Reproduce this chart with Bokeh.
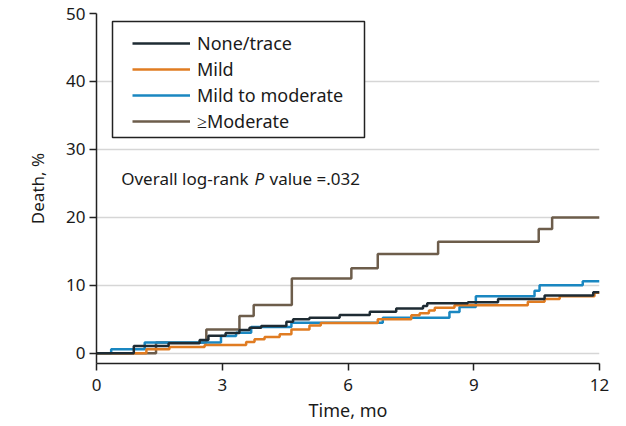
from bokeh.plotting import figure
from bokeh.models import Legend, LegendItem, Label, Range1d, FixedTicker, BoxAnnotation
from bokeh.embed import file_html
from bokeh.resources import INLINE

# ---- data ----
none_t = [0, 0.89, 1.72, 2.46, 2.67, 3.08, 3.41, 3.65, 3.93, 4.53, 4.69, 5.08, 5.80, 6.52, 7.15, 7.79, 7.89, 8.86, 9.58, 10.69, 11.85, 12]
none_v = [0, 1.07, 1.47, 1.96, 2.6, 3.0, 3.43, 3.77, 4.0, 4.66, 5.0, 5.25, 5.64, 6.1, 6.6, 6.96, 7.35, 7.5, 8.0, 8.5, 9.0, 9.0]

mild_t = [0, 1.19, 1.74, 2.58, 3.57, 3.77, 4.01, 4.37, 4.65, 5.08, 5.35, 6.71, 7.51, 7.71, 7.93, 8.07, 8.54, 10.29, 10.69, 11.05, 11.88, 12]
mild_v = [0, 0.6, 0.93, 1.22, 1.66, 2.06, 2.4, 2.8, 3.5, 4.1, 4.45, 5.0, 5.6, 5.9, 6.3, 6.7, 7.06, 7.6, 8.0, 8.4, 8.9, 8.9]

mm_t = [0, 0.35, 1.15, 2.97, 3.33, 3.69, 4.65, 6.83, 8.42, 8.66, 9.05, 10.45, 10.57, 11.6, 12]
mm_v = [0, 0.6, 1.6, 2.55, 3.04, 3.87, 4.5, 5.25, 6.07, 6.8, 8.4, 9.2, 10.0, 10.6, 10.6]

mod_t = [0, 1.42, 2.62, 3.41, 3.75, 4.66, 6.08, 6.71, 8.15, 10.55, 10.87, 12]
mod_v = [0, 1.6, 3.5, 5.5, 7.1, 11.0, 12.5, 14.6, 16.4, 18.3, 20.0, 20.0]

series_names = ["None/trace", "Mild", "Mild to moderate", "\u2265Moderate"]
series_colors = ["#1e2b33", "#e07c22", "#1a87c1", "#6d5d4b"]
x_ticks = [0, 3, 6, 9, 12]
y_ticks = [0, 10, 20, 30, 40, 50]

FONT = "Noto Sans"
TXT = "#1a1a1a"

p = figure(frame_width=503, frame_height=350, output_backend="svg", toolbar_location=None,
           x_range=Range1d(0, 12), y_range=Range1d(-1.5, 50),
           min_border_left=96, min_border_top=13, min_border_right=10, min_border_bottom=50)
p.outline_line_color = None
p.background_fill_color = "white"
p.border_fill_color = "white"

# grid
p.xgrid.grid_line_color = None
p.ygrid.ticker = FixedTicker(ticks=y_ticks)
p.ygrid.grid_line_color = "#d6d6d6"
p.ygrid.grid_line_width = 1.5

# axes
for ax in (p.xaxis[0], p.yaxis[0]):
    ax.axis_line_color = "#222222"
    ax.axis_line_width = 1.5
    ax.major_tick_line_color = "#222222"
    ax.major_tick_line_width = 1.5
    ax.major_tick_in = 0
    ax.major_tick_out = 7
    ax.minor_tick_line_color = None
    ax.major_label_text_font = FONT
    ax.major_label_text_font_size = "17px"
    ax.major_label_text_color = TXT
    ax.axis_label_text_font = FONT
    ax.axis_label_text_font_style = "normal"
    ax.axis_label_text_color = TXT
p.xaxis.ticker = FixedTicker(ticks=x_ticks)
p.yaxis.ticker = FixedTicker(ticks=y_ticks)
p.xaxis.major_label_standoff = 8
p.yaxis.major_label_standoff = 4
p.xaxis.axis_label = "Time, mo"
p.yaxis.axis_label = "Death, %"
p.xaxis.axis_label_text_font_size = "18px"
p.yaxis.axis_label_text_font_size = "17px"
p.xaxis.axis_label_standoff = 4
p.yaxis.axis_label_standoff = 14

# step curves (drawn back to front)
data = [(none_t, none_v), (mild_t, mild_v), (mm_t, mm_v), (mod_t, mod_v)]
renderers = [None] * 4
for i in [3, 2, 1, 0]:
    t, v = data[i]
    renderers[i] = p.step(t, v, mode="after", line_color=series_colors[i], line_width=2.5)

# legend frame
p.add_layout(BoxAnnotation(left=16, right=268, top=342, bottom=226,
                           left_units="screen", right_units="screen",
                           top_units="screen", bottom_units="screen",
                           fill_color="white", fill_alpha=1.0,
                           line_color="#222222", line_alpha=1.0, line_width=1.5))

legend = Legend(items=[LegendItem(label=series_names[i], renderers=[renderers[i]]) for i in range(4)],
                location=(36, 230))
legend.label_text_font = FONT
legend.label_text_font_size = "18px"
legend.label_text_color = TXT
legend.border_line_color = None
legend.background_fill_alpha = 0.0
legend.padding = 8
legend.spacing = 2
legend.margin = 0
legend.glyph_width = 58
legend.glyph_height = 20
legend.label_height = 20
legend.label_standoff = 7
p.add_layout(legend, "center")

# annotation
for txt, xs, style in [("Overall log-rank", 24.7, "normal"), ("P", 158, "italic"), ("value =.032", 173, "normal")]:
    p.add_layout(Label(x=xs, y=185, x_units="screen", y_units="screen", text=txt,
                       text_font=FONT, text_font_size="17px", text_font_style=style,
                       text_color=TXT, text_baseline="alphabetic"))

open("out.html", "w").write(file_html(p, INLINE))
